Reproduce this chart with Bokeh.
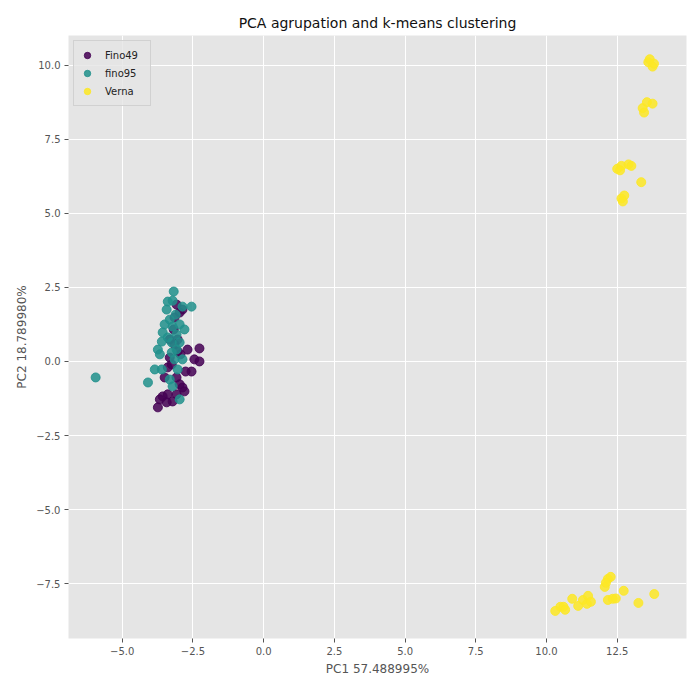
from bokeh.plotting import figure
from bokeh.models import ColumnDataSource, FixedTicker, Legend, LegendItem, Range1d
from bokeh.embed import file_html
from bokeh.resources import INLINE

# --- data ---
fino49_x = [-3.08, -2.97, -2.87, -3.15, -3.04, -2.69, -2.27, -2.45, -2.27, -2.55,
            -3.39, -3.32, -3.15, -3.50, -3.08, -2.87, -3.57, -3.39, -3.08, -2.80,
            -3.22, -3.74, -3.67, -3.43, -2.97, -3.25, -3.04, -3.18, -3.32, -2.94,
            -2.76]
fino49_y = [1.92, 1.65, 1.75, 1.48, 0.34, 0.40, 0.44, 0.07, 0.00, -0.34,
            -0.20, 0.13, 0.57, -0.54, -0.54, -0.88, -1.18, -1.11, -1.11, -1.01,
            -1.35, -1.55, -1.28, -1.38, -0.77, -0.10, 0.74, 1.08, 0.74, 0.24,
            -0.34]

fino95_x = [-3.18, -3.39, -3.22, -2.87, -2.55, -3.43, -3.32, -3.22, -3.57, -3.60,
            -3.39, -3.08, -3.25, -2.97, -3.74, -3.25, -2.87, -3.85, -3.60, -3.04,
            -4.09, -3.22, -2.97, -3.11, -2.97, -3.50, -5.94, -3.08, -3.32, -2.80,
            -3.67, -3.15]
fino95_y = [2.36, 2.02, 2.05, 1.85, 1.85, 1.75, 1.41, 1.18, 0.98, 0.67,
            0.81, 0.91, 0.64, 0.64, 0.40, 0.30, 0.07, -0.27, -0.27, -0.27,
            -0.71, -0.84, -1.28, 1.58, 1.25, 1.25, -0.54, 0.40, -0.61, 1.08,
            0.24, 0.07]

verna_x = [13.60, 13.75, 13.80, 13.65, 13.40, 13.55, 13.75, 13.45, 12.50, 12.65,
           12.90, 13.00, 12.60, 13.35, 12.65, 12.75, 12.70,
           10.49, 10.60, 10.31, 10.66, 10.91, 11.12, 11.29, 11.47, 11.43, 11.57,
           12.06, 12.17, 12.27, 12.10, 12.17, 12.34, 12.45, 12.73, 13.25, 13.81]
verna_y = [10.10, 9.95, 10.05, 10.20, 8.55, 8.75, 8.70, 8.40, 6.50, 6.60,
           6.65, 6.60, 6.45, 6.05, 5.50, 5.60, 5.40,
           -8.28, -8.28, -8.42, -8.38, -8.01, -8.25, -8.05, -7.91, -8.18, -8.11,
           -7.61, -7.34, -7.27, -7.47, -8.05, -8.01, -8.00, -7.74, -8.15, -7.85]

series_names = ["Fino49", "fino95", "Verna"]
series_colors = ["#440154", "#21918c", "#fde725"]

x_ticks = [-5.0, -2.5, 0.0, 2.5, 5.0, 7.5, 10.0, 12.5, 15.0]
y_ticks = [-7.5, -5.0, -2.5, 0.0, 2.5, 5.0, 7.5, 10.0]

title_text = "PCA agrupation and k-means clustering"
x_label = "PC1 57.488995%"
y_label = "PC2 18.789980%"


def fmt(v):
    s = f"{v:.1f}"
    return s.replace("-", "\u2212")


p = figure(width=699, height=678, output_backend="svg", toolbar_location=None,
           x_range=Range1d(-6.9, 14.95), y_range=Range1d(-9.35, 11.0),
           min_border_left=68, min_border_right=13, min_border_top=35,
           min_border_bottom=38)

p.background_fill_color = "#e5e5e5"
p.border_fill_color = "white"
p.outline_line_color = None

p.title.text = title_text
p.title.align = "center"
p.title.text_font = "DejaVu Sans"
p.title.text_font_size = "14px"
p.title.text_font_style = "normal"
p.title.text_color = "#111111"

for ax in (p.xaxis[0], p.yaxis[0]):
    ax.axis_line_color = None
    ax.major_tick_line_color = "#555555"
    ax.major_tick_out = 4
    ax.major_tick_in = 0
    ax.minor_tick_line_color = None
    ax.major_label_text_font = "DejaVu Sans"
    ax.major_label_text_font_size = "10px"
    ax.major_label_text_color = "#555555"
    ax.axis_label_text_font = "DejaVu Sans"
    ax.axis_label_text_font_size = "12px"
    ax.axis_label_text_font_style = "normal"
    ax.axis_label_text_color = "#555555"
    ax.major_label_standoff = 4
    ax.axis_label_standoff = 4

p.xaxis.ticker = FixedTicker(ticks=x_ticks)
p.yaxis.ticker = FixedTicker(ticks=y_ticks)
p.xaxis.major_label_overrides = {t: fmt(t) for t in x_ticks}
p.yaxis.major_label_overrides = {t: fmt(t) for t in y_ticks}
p.xaxis.axis_label = x_label
p.yaxis.axis_label = y_label

p.xgrid.ticker = FixedTicker(ticks=x_ticks)
p.ygrid.ticker = FixedTicker(ticks=y_ticks)
p.grid.grid_line_color = "white"
p.grid.grid_line_width = 1

items = []
for name, color, xs, ys in zip(series_names, series_colors,
                               [fino49_x, fino95_x, verna_x],
                               [fino49_y, fino95_y, verna_y]):
    src = ColumnDataSource(dict(x=xs, y=ys))
    r = p.scatter("x", "y", source=src, size=9, marker="circle",
                  fill_color=color, line_color=color, fill_alpha=0.85, line_alpha=0.85)
    items.append(LegendItem(label=name, renderers=[r]))

legend = Legend(items=items, location="top_left")
legend.background_fill_color = "#e5e5e5"
legend.background_fill_alpha = 0.8
legend.border_line_color = "#cccccc"
legend.border_line_alpha = 0.8
legend.label_text_font = "DejaVu Sans"
legend.label_text_font_size = "10px"
legend.label_text_color = "#222222"
legend.glyph_width = 16
legend.glyph_height = 18
legend.spacing = 0
legend.padding = 5
legend.margin = 5
legend.label_standoff = 10
legend.label_height = 18
legend.label_width = 40
p.add_layout(legend)

open("out.html", "w").write(file_html(p, INLINE))
